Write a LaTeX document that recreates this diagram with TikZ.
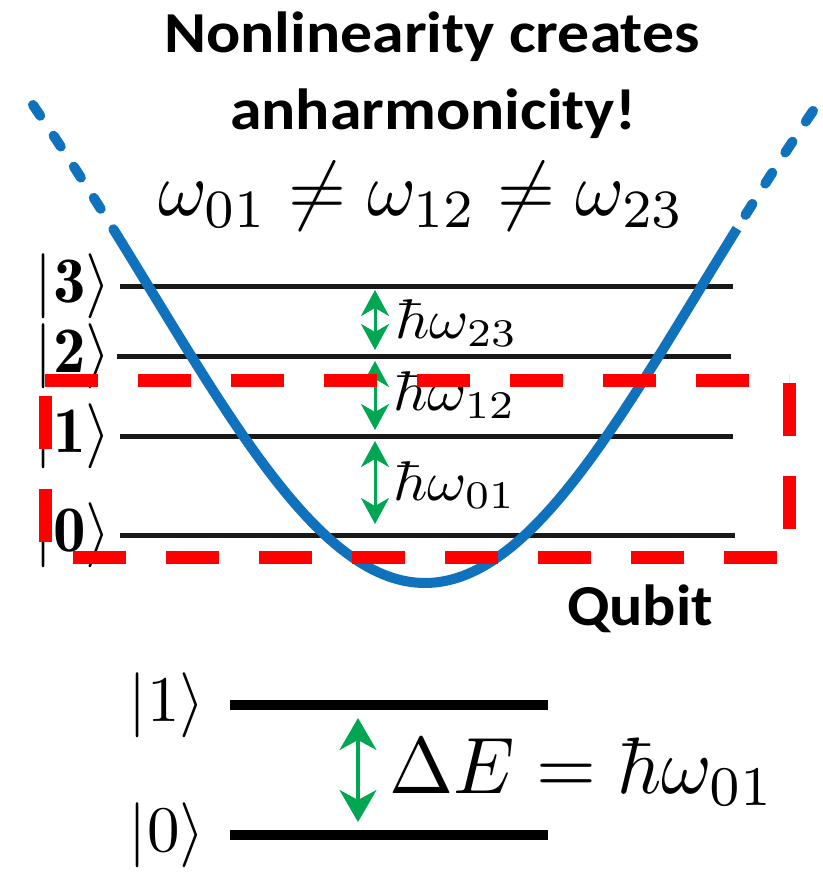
\documentclass[tikz,border=0pt]{standalone}
\usepackage{fontspec}
\newfontfamily\calibri{Carlito}
\usetikzlibrary{arrows.meta}
\definecolor{curveblue}{RGB}{16,114,188}
\definecolor{arrgreen}{RGB}{0,166,81}
\definecolor{boxred}{RGB}{255,0,0}
\begin{document}
\begin{tikzpicture}[x=1pt,y=-1pt,
  level/.style={line width=5pt, black!90},
  qlevel/.style={line width=10pt, black},
  lbl/.style={anchor=east, inner sep=0pt},
  mlbl/.style={anchor=base west, inner sep=0pt},
  title/.style={font=\calibri\bfseries\fontsize{58}{70}\selectfont, anchor=base, inner sep=0pt},
  gap/.style={arrgreen, line width=3pt, {Stealth[length=26pt,width=28pt,inset=8pt]}-{Stealth[length=26pt,width=28pt,inset=8pt]}},
  biggap/.style={arrgreen, line width=3.5pt, {Stealth[length=32pt,width=37pt,inset=10pt]}-{Stealth[length=32pt,width=37pt,inset=10pt]}},
  potential/.style={curveblue, line width=10pt},
  potdots/.style={curveblue, line width=10pt, line cap=round, dash pattern=on 13pt off 24pt},
  redbox/.style={boxred, line width=13pt, dash pattern=on 53pt off 40pt}
]
\useasboundingbox (0,0) rectangle (822,874);

% title texts
\node[title] (t1) at (432,53) {\scalebox{1.1}[1]{Nonlinearity creates}};
\node[title] (t2) at (433,130) {\scalebox{1.1}[1]{anharmonicity!}};
\node[mlbl] (neq) at (158,216) {\scalebox{7.45}[7.7]{$\omega_{01}\neq\omega_{12}\neq\omega_{23}$}};

% level labels
\node[lbl] (k3) at (111,286) {\scalebox{6.5}{$|\mathbf{3}\rangle$}};
\node[lbl] (k2) at (111,356) {\scalebox{6.5}{$|\mathbf{2}\rangle$}};
\node[lbl] (k1) at (111,436) {\scalebox{6.5}{$|\mathbf{1}\rangle$}};
\node[lbl] (k0) at (111,535) {\scalebox{6.5}{$|\mathbf{0}\rangle$}};

% levels
\draw[level] (120,286) -- (733,286);
\draw[level] (117,356) -- (731,356);
\draw[level] (120,436) -- (733,436);
\draw[level] (120,535) -- (735,535);

% potential
\draw[potential] plot[domain=-307:312, samples=120] ({425+(\x)}, {583-250*(1-cos(0.361*(\x)))-6.5*(((\x)/300)*((\x)/300))^3});
\draw[potdots] plot[domain=-392:-307, samples=40] ({425+(\x)}, {583-250*(1-cos(0.361*(\x)))-6.5*(((\x)/300)*((\x)/300))^3});
\draw[potdots] plot[domain=-388:-312, samples=40] ({425-(\x)}, {583-250*(1-cos(0.361*(\x)))-6.5*(((\x)/300)*((\x)/300))^3});

% transitions
\coordinate (a23t) at (375,290);
\coordinate (a23b) at (375,350);
\coordinate (a12t) at (375,361);
\coordinate (a12b) at (375,430);
\coordinate (a01t) at (375,441);
\coordinate (a01b) at (375,524);
\draw[gap] (a23t) -- (a23b);
\draw[gap] (a12t) -- (a12b);
\draw[gap] (a01t) -- (a01b);
\node[mlbl] (h23) at (395,338) {\scalebox{6.0}[5.6]{$\hbar\omega_{23}$}};
\node[mlbl] (h12) at (393,410) {\scalebox{6.0}[5.6]{$\hbar\omega_{12}$}};
\node[mlbl] (h01) at (393,500) {\scalebox{6.0}[5.6]{$\hbar\omega_{01}$}};

% qubit box
\draw[redbox] (45,380) -- (789,380);
\draw[redbox] (789,383) -- (789,557);
\draw[redbox] (777,557) -- (45,557);
\draw[redbox] (45,542) -- (45,380);
\node[title] (qb) at (640,625) {\scalebox{1.07}[1]{Qubit}};

% two-level system
\node[lbl] (b1) at (205,705) {\scalebox{6.5}{$|1\rangle$}};
\node[lbl] (b0) at (205,835) {\scalebox{6.5}{$|0\rangle$}};
\draw[qlevel] (230,705) -- (548,705);
\draw[qlevel] (230,835) -- (548,835);
\coordinate (qt) at (358,718);
\coordinate (qbt) at (358,822);
\draw[biggap] (qt) -- (qbt);
\node[mlbl] (de) at (389,793) {\scalebox{7.7}[8]{$\Delta E=\hbar\omega_{01}$}};
\end{tikzpicture}
\end{document}
